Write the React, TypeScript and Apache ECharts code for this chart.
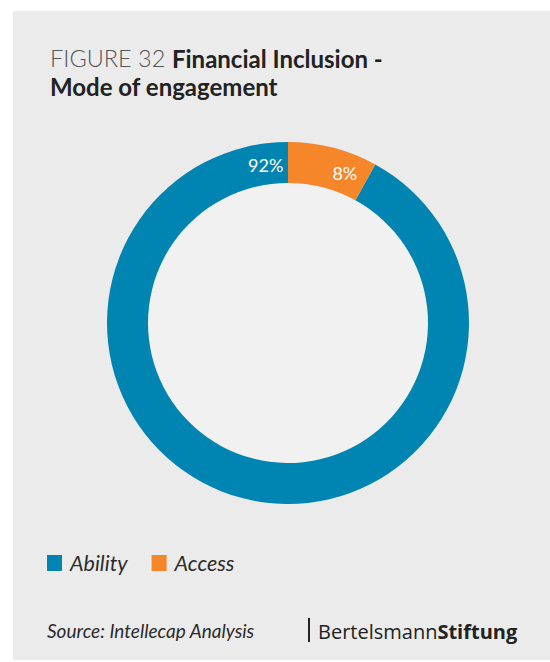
import React, { useEffect, useRef } from "react";
import * as echarts from "echarts";

const categories = ["Ability", "Access"];
const values = [92, 8];
const labels = ["92%", "8%"];
const colors = ["#0085b3", "#f5862a"];

export default function App() {
  const ref = useRef<HTMLDivElement>(null);
  useEffect(() => {
    const chart = echarts.init(ref.current!, null, { renderer: "svg" });
    const cx = 288, cy = 323, rOut = 181, rIn = 140;
    const total = values.reduce((a, b) => a + b, 0);
    // counterclockwise from top
    let start = 90;
    const labelEls: any[] = [];
    values.forEach((v, i) => {
      const ang = ((start + 8) * Math.PI) / 180;
      const r = 160;
      labelEls.push({
        type: "text",
        x: cx + r * Math.cos(ang),
        y: cy - r * Math.sin(ang),
        z: 10,
        style: {
          text: labels[i],
          fill: "#ffffff",
          font: "18px Lato",
          align: "center",
          verticalAlign: "middle",
        },
      });
      start += (v / total) * 360;
    });
    chart.setOption({
      animation: false,
      backgroundColor: "#ffffff",
      legend: {
        data: categories,
        left: 47,
        top: 552,
        padding: 0,
        icon: "rect",
        itemWidth: 15,
        itemHeight: 16,
        itemGap: 24,
        selectedMode: false,
        textStyle: {
          fontFamily: "Lato",
          fontSize: 21.5,
          fontStyle: "italic",
          color: "#2b2b2b",
          padding: [0, 0, 0, 3],
        },
      },
      graphic: [
        {
          type: "rect",
          z: -10,
          shape: { x: 13, y: 11, width: 537, height: 649 },
          style: { fill: "#ebebeb" },
        },
        {
          type: "circle",
          z: -5,
          shape: { cx, cy, r: rIn },
          style: { fill: "#f1f1f1" },
        },
        {
          type: "text",
          x: 50,
          y: 44,
          style: {
            text: "{l|FIGURE 32}  {b|Financial Inclusion -}\n{b|Mode of engagement}",
            verticalAlign: "top",
            rich: {
              l: { fontFamily: "Lato", fontSize: 23.5, fontWeight: 300, fill: "#555555", lineHeight: 28 },
              b: { fontFamily: "Lato", fontSize: 24, fontWeight: "bold", fill: "#222222", lineHeight: 28 },
            },
          },
        },
        {
          type: "text",
          x: 47,
          y: 630,
          style: {
            text: "Source: Intellecap Analysis",
            font: "italic 19px Lato",
            fill: "#2b2b2b",
            verticalAlign: "middle",
          },
        },
        {
          type: "line",
          shape: { x1: 309, y1: 618, x2: 309, y2: 642 },
          style: { stroke: "#222222", lineWidth: 2 },
        },
        {
          type: "text",
          x: 318,
          y: 631,
          style: {
            text: "{r|Bertelsmann}{b|Stiftung}",
            verticalAlign: "middle",
            rich: {
              r: { fontFamily: "Open Sans", fontSize: 20, fill: "#222222" },
              b: { fontFamily: "Open Sans", fontSize: 20, fontWeight: "bold", fill: "#222222" },
            },
          },
        },
        ...labelEls,
      ],
      series: [
        {
          type: "pie",
          center: [cx, cy],
          radius: [rIn, rOut],
          startAngle: 90,
          clockwise: false,
          silent: true,
          label: { show: false },
          labelLine: { show: false },
          itemStyle: { borderWidth: 0 },
          data: categories.map((c, i) => ({
            name: c,
            value: values[i],
            itemStyle: { color: colors[i] },
          })),
        },
      ],
    });
    return () => chart.dispose();
  }, []);
  return (
    <div
      ref={ref}
      style={{ position: "fixed", left: 0, top: 0, width: 550, height: 662 }}
    />
  );
}
